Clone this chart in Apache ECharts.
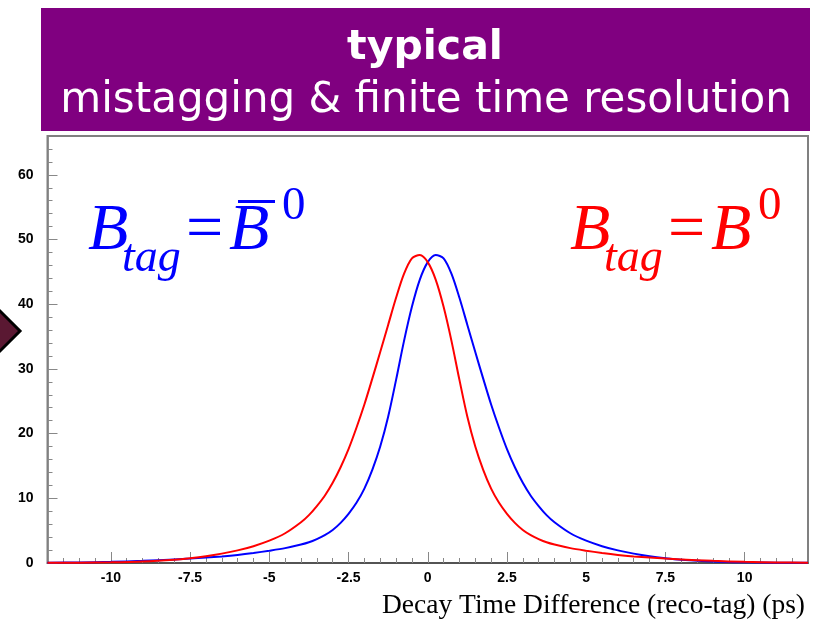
<!DOCTYPE html>
<html>
<head>
<meta charset="utf-8">
<script src="https://cdn.jsdelivr.net/npm/echarts@6/dist/echarts.min.js"></script>
<style>
html,body{margin:0;padding:0;background:#fff;}
#chart{width:814px;height:621px;}
</style>
</head>
<body>
<div id="chart"></div>
<script>
// ---- data ----
var xValues = [-12,-11,-10,-9,-8,-7.5,-7,-6.5,-6,-5.5,-5,-4.5,-4,-3.75,-3.5,-3.25,-3,-2.75,-2.5,-2.25,-2,-1.75,-1.5,-1.25,-1,-0.75,-0.5,-0.25,0,0.25,0.5,0.75,1,1.25,1.5,1.75,2,2.25,2.5,2.75,3,3.25,3.5,3.75,4,4.5,5,5.5,6,6.5,7,7.5,8,9,10,11,12];
var blueValues = [0.045,0.09,0.18,0.33,0.55,0.68,0.84,1.02,1.25,1.55,1.9,2.3,2.85,3.2,3.7,4.3,5.1,6.2,7.6,9.3,11.5,14.4,18.0,22.6,28.3,34.3,39.6,43.8,46.5,47.6,47.1,44.7,41.0,36.8,32.6,28.5,24.5,20.9,17.6,14.8,12.4,10.4,8.8,7.4,6.3,4.6,3.45,2.6,1.95,1.45,1.05,0.75,0.52,0.24,0.11,0.05,0.02];
var redValues = [0.02,0.05,0.11,0.24,0.52,0.75,1.05,1.45,1.95,2.6,3.45,4.6,6.3,7.4,8.8,10.4,12.4,14.8,17.6,20.9,24.5,28.5,32.6,36.8,41.0,44.7,47.1,47.6,46.5,43.8,39.6,34.3,28.3,22.6,18.0,14.4,11.5,9.3,7.6,6.2,5.1,4.3,3.7,3.2,2.85,2.3,1.9,1.55,1.25,1.02,0.84,0.68,0.55,0.33,0.18,0.09,0.045];
var xTickLabels = [-10,-7.5,-5,-2.5,0,2.5,5,7.5,10];
var xMinorTicks = [-11.5,-11,-10.5,-9.5,-9,-8.5,-8,-7,-6.5,-6,-5.5,-4.5,-4,-3.5,-3,-2,-1.5,-1,-0.5,0.5,1,1.5,2,3,3.5,4,4.5,5.5,6,6.5,7,8,8.5,9,9.5,10.5,11,11.5];
var yTickLabels = [0,10,20,30,40,50,60];
var yMinorTicks = [2,4,6,8,12,14,16,18,22,24,26,28,32,34,36,38,42,44,46,48,52,54,56,58,62,64];
var titleLine1 = 'typical';
var titleLine2 = 'mistagging & finite time resolution';
var xAxisTitle = 'Decay Time Difference (reco-tag) (ps)';

function pairs(xs, ys){ return xs.map(function(x,i){return [x, ys[i]];}); }

var chart = echarts.init(document.getElementById('chart'), null, {renderer:'canvas'});

var labelFont = {fontFamily:'"Liberation Sans", Arial, sans-serif', fontWeight:'bold', fontSize:14, color:'#000'};

function formulaTexts(color, xs, bar){
  var serif = '"Liberation Serif", "Times New Roman", serif';
  var els = [
    {type:'text', z:10, style:{text:'B', x:xs[0], y:232, fill:color, fontFamily:serif, fontStyle:'italic', fontSize:66, verticalAlign:'middle', align:'left'}},
    {type:'text', z:10, style:{text:'tag', x:xs[1], y:259, fill:color, fontFamily:serif, fontStyle:'italic', fontSize:46, verticalAlign:'middle', align:'left'}},
    {type:'text', z:10, style:{text:'=', x:xs[2], y:232, fill:color, fontFamily:serif, fontSize:66, verticalAlign:'middle', align:'left'}},
    {type:'text', z:10, style:{text:'B', x:xs[3], y:232, fill:color, fontFamily:serif, fontStyle:'italic', fontSize:66, verticalAlign:'middle', align:'left'}},
    {type:'text', z:10, style:{text:'0', x:xs[4], y:207, fill:color, fontFamily:serif, fontSize:47, verticalAlign:'middle', align:'left'}}
  ];
  if (bar) {
    els.push({type:'rect', z:10, shape:{x:xs[3]+9, y:200, width:37, height:3}, style:{fill:color}});
  }
  return els;
}

var graphics = [
  {type:'rect', z:5, shape:{x:41, y:8, width:769, height:123}, style:{fill:'#800080'}},
  {type:'text', z:6, style:{text:titleLine1, x:425, y:48, fill:'#fff', fontFamily:'"DejaVu Sans", Verdana, sans-serif', fontWeight:'bold', fontSize:41, align:'center', verticalAlign:'middle'}},
  {type:'text', z:6, style:{text:titleLine2, x:426, y:101, fill:'#fff', fontFamily:'"DejaVu Sans", Verdana, sans-serif', fontSize:42, align:'center', verticalAlign:'middle'}},
  {type:'text', z:6, style:{text:xAxisTitle, x:805, y:606, fill:'#000', fontFamily:'"Liberation Serif", "Times New Roman", serif', fontSize:27.5, align:'right', verticalAlign:'middle'}},
  {type:'polygon', z:6, shape:{points:[[-4,307],[20,331],[-4,355],[-28,331]]}, style:{fill:'#5a1832', stroke:'#000', lineWidth:3}}
].concat(formulaTexts('#0000ff',[88,122,186,229,282],true))
 .concat(formulaTexts('#ff0000',[570,604,668,711,758],false));

var option = {
  backgroundColor:'#ffffff',
  animation:false,
  grid:{left:47.5, right:6, top:136, bottom:58, show:true, borderColor:'#808080', borderWidth:2, backgroundColor:'#fff', containLabel:false, outerBoundsMode:'none'},
  xAxis:[{
    type:'value', min:-12, max:12, position:'bottom',
    axisLine:{show:true, onZero:false, lineStyle:{color:'#444', width:1.5}},
    axisTick:{show:true, inside:true, length:11, customValues:xTickLabels, lineStyle:{color:'#888', width:1}},
    axisLabel:Object.assign({customValues:xTickLabels, margin:8, formatter:function(v){return String(v);}}, labelFont),
    splitLine:{show:false}
  },{
    type:'value', min:-12, max:12, position:'bottom',
    axisLine:{show:false, onZero:false},
    axisTick:{show:true, inside:true, length:5, customValues:xMinorTicks, lineStyle:{color:'#888', width:1}},
    axisLabel:{show:false},
    splitLine:{show:false}
  }],
  yAxis:[{
    type:'value', min:0, max:66, position:'left',
    axisLine:{show:true, onZero:false, lineStyle:{color:'#808080', width:1.5}},
    axisTick:{show:true, inside:true, length:10, customValues:yTickLabels, lineStyle:{color:'#888', width:1}},
    axisLabel:Object.assign({customValues:yTickLabels, margin:14}, labelFont),
    splitLine:{show:false}
  },{
    type:'value', min:0, max:66, position:'left',
    axisLine:{show:false, onZero:false},
    axisTick:{show:true, inside:true, length:5, customValues:yMinorTicks, lineStyle:{color:'#888', width:1}},
    axisLabel:{show:false},
    splitLine:{show:false}
  }],
  series:[
    {type:'line', name:'Btag = anti-B0', xAxisIndex:0, yAxisIndex:0, data:pairs(xValues, blueValues), smooth:0.3, showSymbol:false, symbol:'none', lineStyle:{color:'#0000ff', width:2}, z:3},
    {type:'line', name:'Btag = B0', xAxisIndex:0, yAxisIndex:0, data:pairs(xValues, redValues), smooth:0.3, showSymbol:false, symbol:'none', lineStyle:{color:'#ff0000', width:2}, z:4}
  ],
  graphic:graphics
};
chart.setOption(option);
</script>
</body>
</html>
